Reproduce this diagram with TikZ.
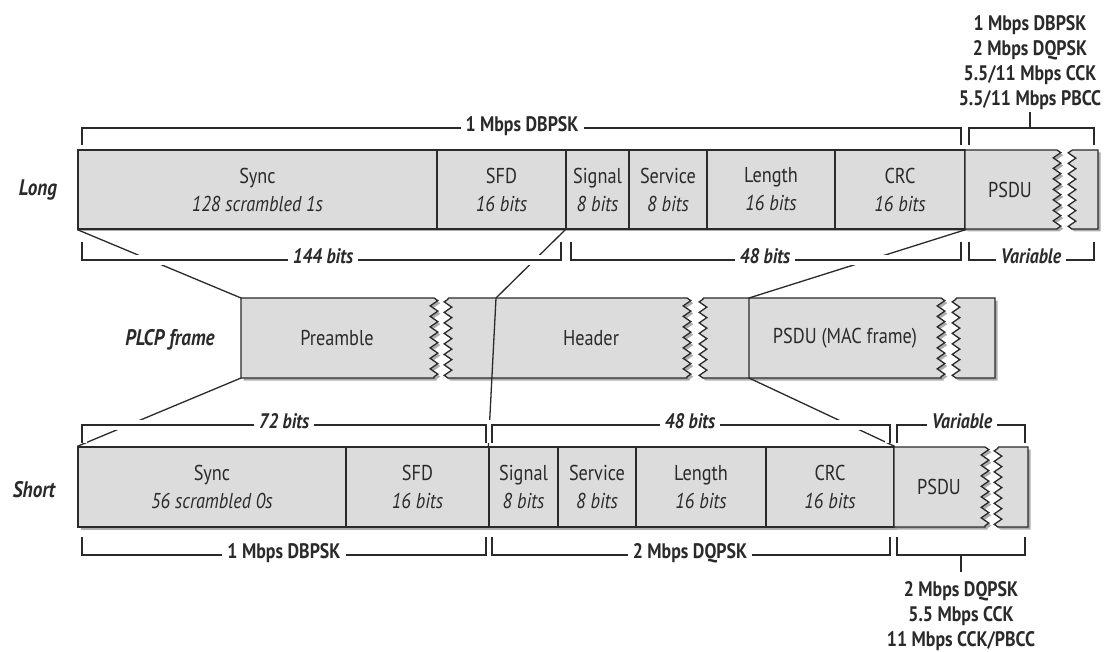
\documentclass[tikz,border=0pt]{standalone}
\usepackage{fontspec}
\setmainfont{PT Sans}[FakeStretch=0.85]
\usetikzlibrary{decorations.pathmorphing,shadows}
\definecolor{lc}{HTML}{2A2A2A}
\definecolor{cf}{HTML}{DCDCDC}
\definecolor{sh}{HTML}{ADADAD}
\newcommand\mkcell[6]{%
  \node[cell, minimum width={#3pt-#2pt}, minimum height={#5pt-#4pt}] (#1) at ({(#2+#3)/2},{(#4+#5)/2}) {#6};}
\begin{document}
\begin{tikzpicture}[x=1pt,y=-1pt,
  every node/.style={text=lc},
  cellfont/.style={font=\fontsize{21.5}{28}\selectfont},
  shadowed/.style={drop shadow={shadow xshift=2.5pt, shadow yshift=-2.5pt, fill=sh, opacity=1}},
  cell/.style={shadowed, draw=lc, fill=cf, line width=1.3pt, inner sep=0pt, align=center, cellfont},
  piece/.style={shadowed, draw=lc, fill=cf, line width=1.3pt, line join=miter},
  zz/.style={decoration={zigzag, segment length=10.5pt, amplitude=3.8pt}},
  conn/.style={draw=lc, line width=1.3pt},
  brk/.style={draw=lc, line width=1.6pt, preaction={draw=white, line width=10pt}},
  blab/.style={fill=white, inner xsep=5pt, inner ysep=1pt, font=\fontsize{21}{25}\selectfont\bfseries, text height=0.72em, text depth=0pt},
  ilab/.style={fill=white, inner xsep=5pt, inner ysep=1pt, font=\fontsize{21}{25}\selectfont\bfseries\itshape, text height=0.72em, text depth=0pt},
  stack/.style={align=center, inner sep=0pt, font=\fontsize{21}{25}\selectfont\bfseries},
  rowlab/.style={font=\fontsize{22.5}{26}\selectfont\bfseries\itshape},
  ptxt/.style={cellfont, inner sep=0pt},
]
\fill[white] (0,0) rectangle (1115,652);
\useasboundingbox (0,0) rectangle (1115,652);

% ---------- Long row ----------
\mkcell{lsync}{78}{437}{150}{229}{Sync\\\textit{128 scrambled 1s}}
\mkcell{lsfd}{437}{566}{150}{229}{SFD\\\textit{16 bits}}
\mkcell{lsig}{566}{629}{150}{229}{Signal\\\textit{8 bits}}
\mkcell{lserv}{629}{707}{150}{229}{Service\\\textit{8 bits}}
\mkcell{llen}{707}{835}{150}{229}{Length\\\textit{16 bits}}
\mkcell{lcrc}{835}{965}{150}{229}{CRC\\\textit{16 bits}}
\path[piece] (965,150) -- (1057,150) decorate[zz]{-- (1057,229)} -- (965,229) -- cycle;
\path[piece] (1072,150) -- (1098,150) -- (1098,229) -- (1072,229) decorate[zz]{-- (1072,150)} -- cycle;
\node[ptxt] (lpsdu) at (1010,190) {PSDU};
\node[rowlab] (longlab) at (38,190) {Long};

% ---------- PLCP frame row ----------
\path[piece] (241,298) -- (434,298) decorate[zz]{-- (434,378)} -- (241,378) -- cycle;
\path[piece] (448,298) -- (687,298) decorate[zz]{-- (687,378)} -- (448,378) decorate[zz]{-- (448,298)} -- cycle;
\path[piece] (703,298) -- (941,298) decorate[zz]{-- (941,378)} -- (703,378) decorate[zz]{-- (703,298)} -- cycle;
\path[piece] (956,298) -- (995,298) -- (995,378) -- (956,378) decorate[zz]{-- (956,298)} -- cycle;
\coordinate (preNW) at (241,298);
\coordinate (preSW) at (241,378);
\coordinate (hdT) at (496,298);
\coordinate (pdT) at (749,298);
\coordinate (pdB) at (749,378);
\node[ptxt] (pre) at (337,338) {Preamble};
\node[ptxt] (hdr) at (591,338) {Header};
\node[ptxt] (mac) at (845,338) {PSDU (MAC frame)};
\node[rowlab] (plcplab) at (170,340) {PLCP frame};

% ---------- Short row ----------
\mkcell{ssync}{78}{346}{447}{527}{Sync\\\textit{56 scrambled 0s}}
\mkcell{ssfd}{346}{489}{447}{527}{SFD\\\textit{16 bits}}
\mkcell{ssig}{489}{558}{447}{527}{Signal\\\textit{8 bits}}
\mkcell{sserv}{558}{636}{447}{527}{Service\\\textit{8 bits}}
\mkcell{slen}{636}{766}{447}{527}{Length\\\textit{16 bits}}
\mkcell{scrc}{766}{894}{447}{527}{CRC\\\textit{16 bits}}
\path[piece] (894,447) -- (985,447) decorate[zz]{-- (985,527)} -- (894,527) -- cycle;
\path[piece] (998,447) -- (1028,447) -- (1028,527) -- (998,527) decorate[zz]{-- (998,447)} -- cycle;
\node[ptxt] (spsdu) at (939,487) {PSDU};
\node[rowlab] (shortlab) at (34,490) {Short};

% ---------- connectors ----------
\draw[conn] (lsync.south west) -- (preNW);
\draw[conn] (lsig.south west) -- (hdT) -- (ssig.north west);
\draw[conn] (lcrc.south east) -- (pdT) -- (pdB) -- (scrc.north east);
\draw[conn] (preSW) -- (ssync.north west);

% ---------- brackets: long ----------
\draw[brk] (82,145) -- (82,128) -- (961,128) -- (961,145);
\node[blab] (lt1) at (522,128) {1 Mbps DBPSK};
\draw[brk] (969,145) -- (969,128) -- (1094,128) -- (1094,145) (1030,128) -- (1030,112);
\node[stack, anchor=south] (ltr) at (1030,110) {1 Mbps DBPSK\\2 Mbps DQPSK\\5.5/11 Mbps CCK\\5.5/11 Mbps PBCC};
\draw[brk] (82,242) -- (82,260) -- (561,260) -- (561,242);
\node[ilab] (lb1) at (323,260) {144 bits};
\draw[brk] (571,242) -- (571,260) -- (961,260) -- (961,242);
\node[ilab] (lb2) at (765,260) {48 bits};
\draw[brk] (969,242) -- (969,260) -- (1094,260) -- (1094,242);
\node[ilab] (lb3) at (1031,260) {Variable};

% ---------- brackets: short ----------
\draw[brk] (82,443) -- (82,425) -- (486,425) -- (486,443);
\node[ilab] (st1) at (284,425) {72 bits};
\draw[brk] (492,443) -- (492,425) -- (890,425) -- (890,443);
\node[ilab] (st2) at (690,425) {48 bits};
\draw[brk] (897,443) -- (897,425) -- (1025,425) -- (1025,443);
\node[ilab] (st3) at (962,425) {Variable};
\draw[brk] (82,537) -- (82,555) -- (486,555) -- (486,537);
\node[blab] (sb1) at (284,555) {1 Mbps DBPSK};
\draw[brk] (492,537) -- (492,555) -- (890,555) -- (890,537);
\node[blab] (sb2) at (690,555) {2 Mbps DQPSK};
\draw[brk] (897,537) -- (897,555) -- (1025,555) -- (1025,537) (961,555) -- (961,572);
\node[stack, anchor=north] (sbr) at (961,581) {2 Mbps DQPSK\\5.5 Mbps CCK\\11 Mbps CCK/PBCC};
\end{tikzpicture}
\end{document}
